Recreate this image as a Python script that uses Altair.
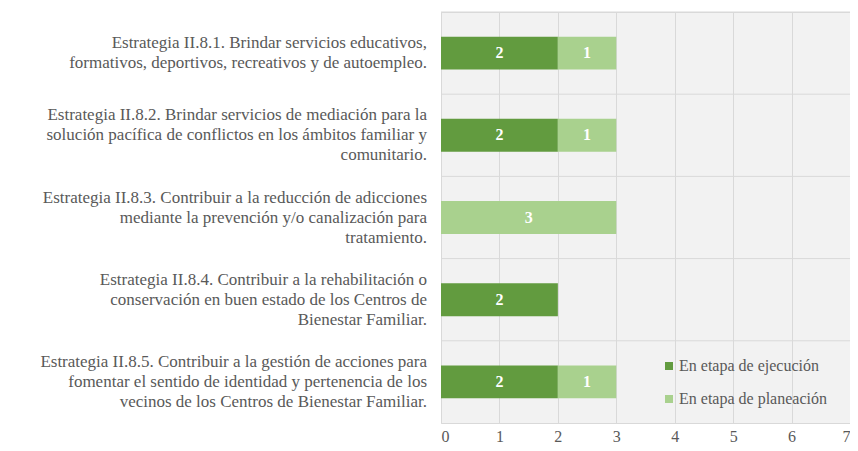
import altair as alt
import pandas as pd

estrategias = [
    "Estrategia II.8.1. Brindar servicios educativos,|formativos, deportivos, recreativos y de autoempleo.",
    "Estrategia II.8.2. Brindar servicios de mediación para la|solución pacífica de conflictos en los ámbitos familiar y|comunitario.",
    "Estrategia II.8.3. Contribuir a la reducción de adicciones|mediante la prevención y/o canalización para|tratamiento.",
    "Estrategia II.8.4. Contribuir a la rehabilitación o|conservación en buen estado de los Centros de|Bienestar Familiar.",
    "Estrategia II.8.5. Contribuir a la gestión de acciones para|fomentar el sentido de identidad y pertenencia de los|vecinos de los Centros de Bienestar Familiar.",
]
ejecucion = [2, 2, 0, 2, 2]
planeacion = [1, 1, 3, 0, 1]
series = ["En etapa de ejecución", "En etapa de planeación"]
colores = ["#629b3f", "#a9d18e"]
x_ticks = [0, 1, 2, 3, 4, 5, 6, 7]

rows = []
for cat, a, b in zip(estrategias, ejecucion, planeacion):
    rows.append({"cat": cat, "serie": series[0], "valor": a, "orden": 0})
    rows.append({"cat": cat, "serie": series[1], "valor": b, "orden": 1})
df = pd.DataFrame(rows)
df = df[df["valor"] > 0]
cats_df = pd.DataFrame({"cat": estrategias})

FONT = "Liberation Serif"
GRAY = "#595959"
GRID = "#d9d9d9"
LINE_H = 20

y_scale = alt.Scale(domain=estrategias, paddingInner=0.6, paddingOuter=0.3)
step_scale = alt.Scale(domain=estrategias, paddingInner=0, paddingOuter=0)

# horizontal separators at the step boundaries between categories
separators = alt.Chart(cats_df).mark_rule(color=GRID, strokeWidth=1).encode(
    y=alt.Y("cat:N", scale=step_scale, axis=None, bandPosition=0),
)

base = alt.Chart(df).transform_stack(
    stack="valor", groupby=["cat"], as_=["x0", "x1"], sort=[alt.SortField("orden")]
).transform_calculate(mid="(datum.x0 + datum.x1) / 2")

bars = base.mark_bar().encode(
    x=alt.X(
        "x0:Q",
        scale=alt.Scale(domain=[0, 7], nice=False),
        axis=alt.Axis(
            title=None,
            values=x_ticks,
            format="d",
            grid=True,
            gridColor=GRID,
            domain=False,
            ticks=False,
            labelFont=FONT,
            labelFontSize=16,
            labelColor=GRAY,
            labelPadding=5,
        ),
    ),
    x2="x1:Q",
    y=alt.Y("cat:N", scale=y_scale, axis=None),
    color=alt.Color(
        "serie:N",
        scale=alt.Scale(domain=series, range=colores),
        legend=alt.Legend(
            title=None,
            orient="none",
            legendX=220,
            legendY=346,
            symbolType="square",
            symbolSize=64,
            symbolStrokeWidth=0,
            labelFont=FONT,
            labelFontSize=16,
            labelColor=GRAY,
            rowPadding=17,
            labelOffset=2,
        ),
    ),
    order=alt.Order("orden:Q"),
)

values = base.mark_text(
    color="white", font=FONT, fontSize=16, fontWeight="bold"
).encode(
    x="mid:Q",
    y=alt.Y("cat:N", scale=y_scale, axis=None),
    text="valor:Q",
)

# category labels (multi-line, vertically centred on each band)
cat_labels = alt.Chart(cats_df).transform_calculate(
    off="-(length(split(datum.cat, '|')) - 1) * %d / 2" % LINE_H
).mark_text(
    align="right",
    baseline="middle",
    font=FONT,
    fontSize=17,
    color=GRAY,
    lineBreak="|",
    lineHeight=LINE_H,
    dy=alt.ExprRef("datum.off"),
).encode(
    x=alt.value(-14),
    y=alt.Y("cat:N", scale=y_scale, axis=None),
    text="cat:N",
)

chart = alt.layer(separators, bars, values, cat_labels).resolve_scale(
    y="independent"
).properties(
    width=409,
    height=411,
    autosize="none",
    padding={"left": 433, "top": 4, "right": 0, "bottom": 20},
).configure_view(fill="#f2f2f2", stroke=GRID)

chart.save("out.html", embed_options={"renderer": "svg", "actions": False})
